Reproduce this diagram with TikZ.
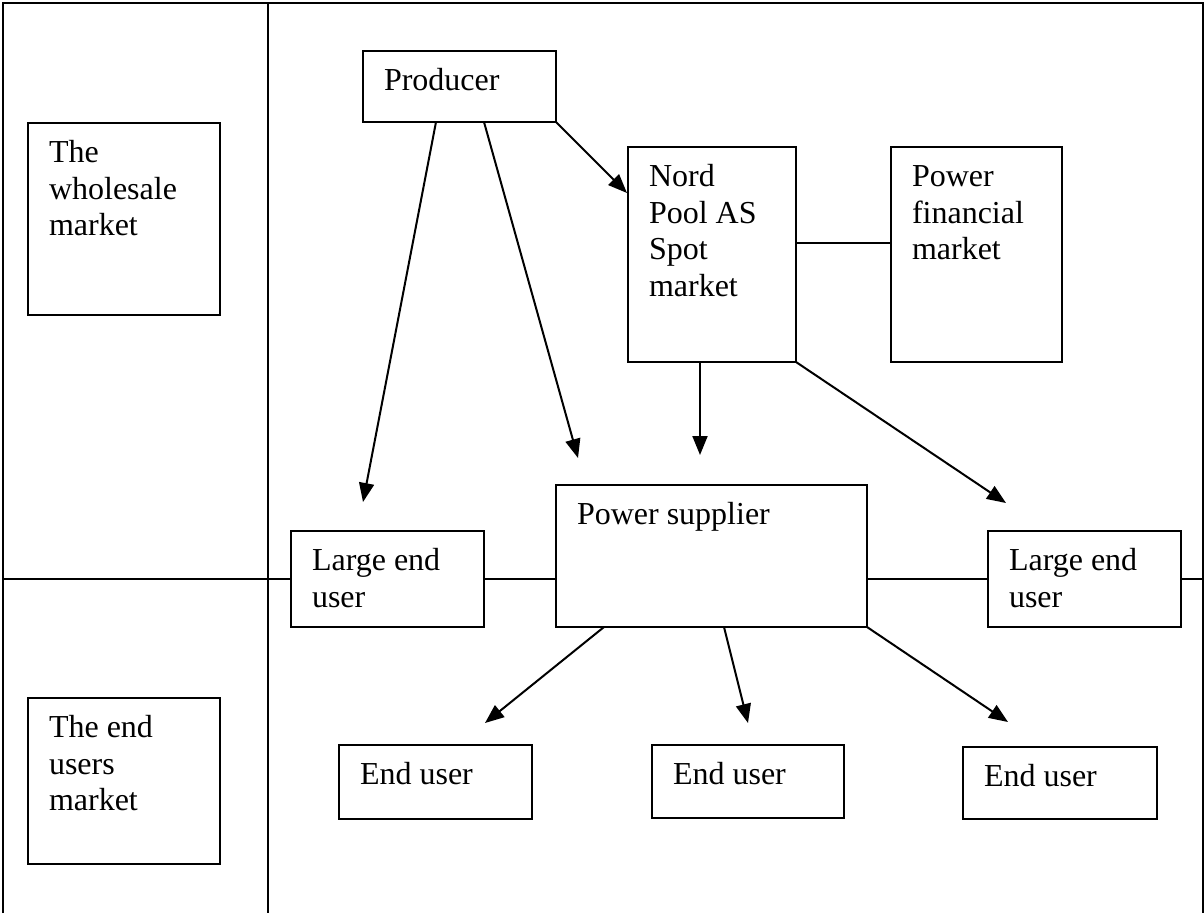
\documentclass[tikz,border=0pt]{standalone}
\usepackage{fontspec}
\setmainfont{Liberation Serif}
\usetikzlibrary{positioning,arrows.meta}

\tikzset{
  mkt/.style={draw, line width=2pt, fill=white, anchor=north west, inner xsep=21pt, inner ysep=14pt, outer sep=0pt},
  arr/.style={line width=2pt, -{Triangle[length=19pt,width=15pt]}},
  rule/.style={line width=2pt}
}
\newcommand{\celltext}[3]{\parbox[c][#2pt][t]{#1pt}{\raggedright\strut #3}}

\begin{document}
\begin{tikzpicture}[x=1pt, y=-1pt, font=\fontsize{32}{36.5}\selectfont]
\useasboundingbox (0,0) rectangle (1204,913);

% frame
\draw[rule] (3,913) -- (3,3) -- (1203,3) -- (1203,913);
\draw[rule] (268,3) -- (268,913);

% left column
\node[mkt] (whole) at (28,123) {\celltext{150}{164}{The\\wholesale\\market}};
\node[mkt] (endmkt) at (28,698) {\celltext{150}{138}{The end\\users\\market}};

% actors
\node[mkt] (prod) at (363,51) {\celltext{151}{43}{Producer}};
\node[mkt] (nord) at (628,147) {\celltext{126}{187}{Nord\\Pool AS\\Spot\\market}};
\node[mkt] (fin) at (891,147) {\celltext{129}{187}{Power\\financial\\market}};
\node[mkt] (supp) at (556,485) {\celltext{269}{114}{Power supplier}};
\node[mkt] (lgL) at (291,531) {\celltext{151}{68}{Large end\\user}};
\node[mkt] (lgR) at (988,531) {\celltext{151}{68}{Large end\\user}};
\node[mkt] (eu1) at (339,745) {\celltext{151}{46}{End user}};
\node[mkt] (eu2) at (652,745) {\celltext{150}{45}{End user}};
\node[mkt] (eu3) at (963,747) {\celltext{152}{44}{End user}};

% arrow tips
\coordinate (tLL) at (363,502);
\coordinate (tSup) at (578,458);
\coordinate (tNord) at (627,193);
\coordinate (tSup2) at (700,455);
\coordinate (tLR) at (1006,503);
\coordinate (tE1) at (485,723);
\coordinate (tE2) at (748,723);
\coordinate (tE3) at (1008,722);

% market split line
\draw[rule] (3,579) -- (lgL.west);
\draw[rule] (lgL.east) -- (lgL.east -| supp.west);
\draw[rule] (supp.east |- lgR.west) -- (lgR.west);
\draw[rule] (lgR.east) -- (1203,579);
\draw[rule] ([yshift=11.5pt]nord.east) -- ([yshift=11.5pt]fin.west);

% flows
\draw[arr] ([xshift=73pt]prod.south west) -- (tLL);
\draw[arr] ([xshift=121pt]prod.south west) -- (tSup);
\draw[arr] (prod.south east) -- (tNord);
\draw[arr] ([xshift=72pt]nord.south west) -- (tSup2);
\draw[arr] (nord.south east) -- (tLR);
\draw[arr] ([xshift=48pt]supp.south west) -- (tE1);
\draw[arr] ([xshift=168pt]supp.south west) -- (tE2);
\draw[arr] (supp.south east) -- (tE3);

\end{tikzpicture}
\end{document}
